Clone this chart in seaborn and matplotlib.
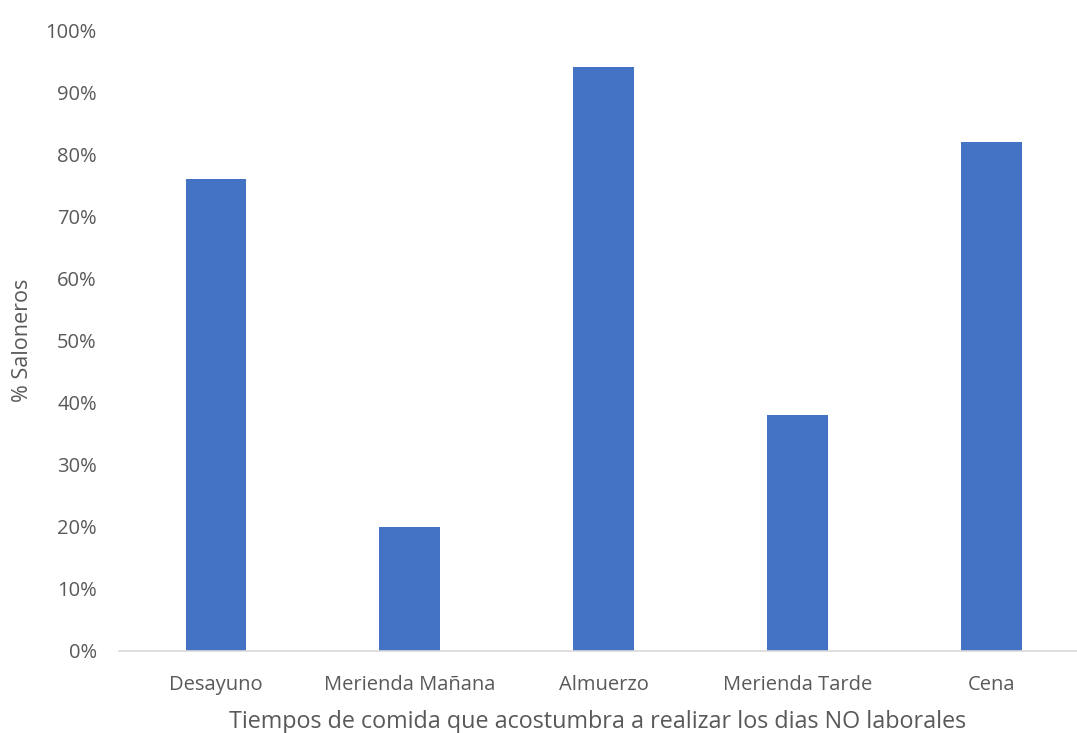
import matplotlib
matplotlib.use("Agg")
import matplotlib.pyplot as plt
import seaborn as sns
import pandas as pd
from matplotlib.ticker import FuncFormatter

comidas = ["Desayuno", "Merienda Mañana", "Almuerzo", "Merienda Tarde", "Cena"]
porcentajes = [0.76, 0.20, 0.94, 0.38, 0.82]
y_ticks = [0.0, 0.1, 0.2, 0.3, 0.4, 0.5, 0.6, 0.7, 0.8, 0.9, 1.0]

df = pd.DataFrame({"comida": comidas, "pct": porcentajes})

sns.set_theme(style="white")
plt.rcParams["font.family"] = ["Open Sans", "DejaVu Sans"]

gris = "#595959"
fig = plt.figure(figsize=(10.77, 7.33), dpi=100)
ax = fig.add_axes([119 / 1077, 82 / 733, (1077 - 119) / 1077, 621 / 733])

sns.barplot(data=df, x="comida", y="pct", color="#4472C4", width=0.314,
            saturation=1, linewidth=0, ax=ax, order=comidas)

ax.set_ylim(0, 1)
ax.set_xlim(-0.5, 4.44)
ax.set_yticks(y_ticks)
ax.yaxis.set_major_formatter(FuncFormatter(lambda v, _: f"{v * 100:.0f}%"))

for s in ["top", "right", "left"]:
    ax.spines[s].set_visible(False)
ax.spines["bottom"].set_color("#d9d9d9")
ax.spines["bottom"].set_linewidth(1.2)

ax.tick_params(axis="y", length=0, pad=16, labelsize=14.5, labelcolor=gris)
ax.tick_params(axis="x", length=0, pad=17, labelsize=14.5, labelcolor=gris)

ax.set_ylabel("% Saloneros", fontsize=15.5, color=gris, labelpad=9)
ax.set_xlabel("Tiempos de comida que acostumbra a realizar los dias NO laborales",
              fontsize=16.8, color=gris, labelpad=11)

fig.savefig("out.png", dpi=100)
